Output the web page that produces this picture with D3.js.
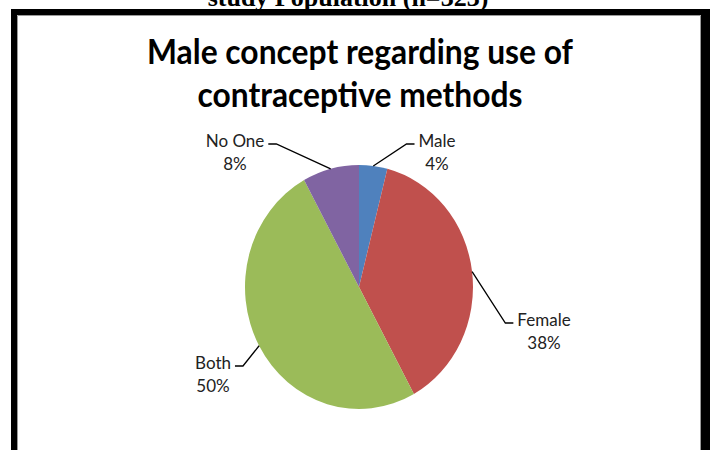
<!DOCTYPE html>
<html>
<head>
<meta charset="utf-8">
<script src="https://cdn.jsdelivr.net/npm/d3@7"></script>
<style>
  html, body { margin: 0; padding: 0; background: #fff; }
  svg { display: block; }
</style>
</head>
<body>
<svg id="chart" width="710" height="450"></svg>
<script>
// Survey answers: who should use contraceptive methods (percent of respondents)
const categories = ["Male", "Female", "Both", "No One"];
const percentages = [4, 38, 50, 8];
const sliceColors = ["#4F81BD", "#C0504D", "#9BBB59", "#8064A2"];
const titleLines = ["Male concept regarding use of", "contraceptive methods"];
const captionText = "study Population (n=323)";

// Label placement: centre x and first baseline of each two-line label
const labelLayout = {
  "Male":   { x: 437, y: 147, side: "right" },
  "Female": { x: 544, y: 326, side: "right" },
  "Both":   { x: 213, y: 369, side: "left" },
  "No One": { x: 235, y: 147, side: "left" }
};

const svg = d3.select("#chart");
const W = 710, H = 450;

// caption of the figure, partly above the frame
svg.append("text")
  .attr("x", 348).attr("y", 6)
  .attr("text-anchor", "middle")
  .style("font-family", "'Liberation Serif', 'Times New Roman', serif")
  .style("font-weight", "bold")
  .style("font-size", "26px")
  .text(captionText);

// thick black frame
svg.append("rect").attr("x", 11).attr("y", 9).attr("width", W).attr("height", H).attr("fill", "#000");
svg.append("rect").attr("x", 17).attr("y", 15).attr("width", 684).attr("height", H).attr("fill", "#fff");
svg.append("path")
  .attr("d", "M17.5,460 V15.5 H700.5 V460")
  .attr("fill", "none").attr("stroke", "#9a9a9a").attr("stroke-width", 1);

// title
const title = svg.append("g")
  .style("font-family", "Lato, 'Open Sans', sans-serif")
  .style("font-weight", "bold")
  .style("font-size", "34px")
  .attr("fill", "#000");
const titleWidths = [426, 325];
titleLines.forEach((t, i) => {
  title.append("text")
    .attr("x", 360).attr("y", 64 + i * 43)
    .attr("text-anchor", "middle")
    .attr("textLength", titleWidths[i])
    .attr("lengthAdjust", "spacingAndGlyphs")
    .text(t);
});

// pie (slightly taller than wide)
const cx = 359, cy = 287, rx = 114, ry = 122;
const data = categories.map((c, i) => ({ name: c, value: percentages[i], color: sliceColors[i] }));
const pie = d3.pie().value(d => d.value).sort(null);
const arcs = pie(data);
const arc = d3.arc().innerRadius(0).outerRadius(rx);

svg.append("g")
  .attr("transform", `translate(${cx},${cy}) scale(1,${ry / rx})`)
  .selectAll("path")
  .data(arcs)
  .join("path")
  .attr("d", arc)
  .attr("fill", d => d.data.color);

// data labels with leader lines
const labels = svg.append("g")
  .style("font-family", "Lato, 'Open Sans', sans-serif")
  .style("font-size", "17px")
  .attr("fill", "#222");

arcs.forEach(a => {
  const lay = labelLayout[a.data.name];
  const mid = (a.startAngle + a.endAngle) / 2;
  const px = cx + rx * Math.sin(mid);
  const py = cy - ry * Math.cos(mid);

  const t1 = labels.append("text")
    .attr("x", lay.x).attr("y", lay.y)
    .attr("text-anchor", "middle")
    .text(a.data.name);
  labels.append("text")
    .attr("x", lay.x).attr("y", lay.y + 23)
    .attr("text-anchor", "middle")
    .text(d3.format(".0f")(a.data.value) + "%");

  const w = t1.node().getComputedTextLength();
  const ly = lay.y - 3;
  let edge, elbow;
  if (lay.side === "right") {
    edge = lay.x - w / 2 - 4;
    elbow = edge - 8;
  } else {
    edge = lay.x + w / 2 + 4;
    elbow = edge + 8;
  }
  svg.append("path")
    .attr("d", `M${px},${py} L${elbow},${ly} L${edge},${ly}`)
    .attr("fill", "none")
    .attr("stroke", "#000")
    .attr("stroke-width", 1.3);
});
</script>
</body>
</html>
